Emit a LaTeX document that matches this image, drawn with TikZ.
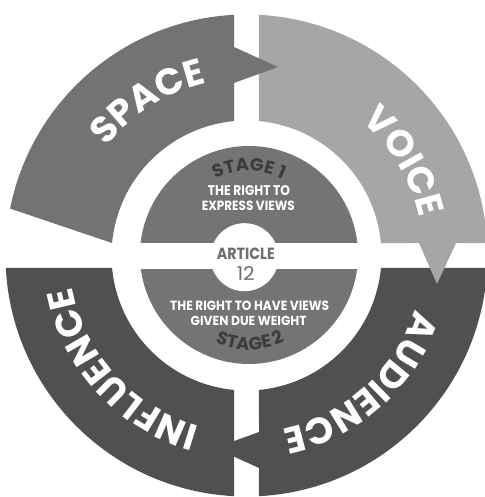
\documentclass[tikz,border=0pt]{standalone}
\usepackage{fontspec}
\usepackage{graphicx}
\usetikzlibrary{decorations.text}
\setmainfont{Poppins}
\newfontfamily\pop{Poppins}
\newcommand\ringfont{\pop\bfseries\fontsize{37}{37}\selectfont}
\newcommand\stagefont{\pop\bfseries\fontsize{18}{18}\selectfont}
\definecolor{cspace}{HTML}{737373}
\definecolor{cvoice}{HTML}{A6A6A6}
\definecolor{cdark}{HTML}{505050}
\definecolor{cdisc}{HTML}{747474}
\definecolor{cstage}{HTML}{3C3C3C}
\definecolor{cart}{HTML}{6E6E6E}
\tikzset{
  ringlabel/.style={decorate,decoration={text along path,text align=center,text color=white,
    text={|\ringfont|#1}}},
  stagelabel/.style={decorate,decoration={text along path,text align=center,text color=cstage,
    text={|\stagefont|#1}}},
  innertext/.style={text=white,inner sep=0pt}
}
\begin{document}
\begin{tikzpicture}[x=1pt,y=1pt]
\useasboundingbox (-246.5,-241.5) rectangle (237.5,255.5);
\fill[white] (-246.5,-241.5) rectangle (237.5,255.5);
% INFLUENCE
\fill[cdark] (-92.97:241) arc[start angle=-92.97,end angle=-177.03,radius=241] -- (185.31:135) arc[start angle=185.31,end angle=264.69,radius=135] -- cycle;
% AUDIENCE
\fill[cdark] (-2.97:241) arc[start angle=-2.97,end angle=-87.03,radius=241] -- (12.5,-212.5) -- (-31.5,-192.5) -- (12.5,-176.5) -- (-84.69:135) arc[start angle=-84.69,end angle=-5.31,radius=135] -- cycle;
% VOICE
\fill[cvoice] (87.03:241) arc[start angle=87.03,end angle=2.97,radius=241] -- (209.5,12.5) -- (190.5,-28.5) -- (172.5,12.5) -- (5.31:135) arc[start angle=5.31,end angle=84.69,radius=135] -- cycle;
% SPACE
\fill[cspace] (168.78:241) arc[start angle=168.78,end angle=92.97,radius=241] -- (-12.5,208.5) -- (31.5,188.5) -- (-12.5,172.5) -- (95.31:135) arc[start angle=95.31,end angle=174.69,radius=135] -- cycle;
% inner disc
\fill[cdisc] (2.5,0.5) circle[radius=109];
\fill[white] (-110,-13.5) rectangle (115,12.5);
\fill[white] (-2,-1.7) circle[radius=34];
% ring labels (baseline radius 177)
\path[ringlabel=SPACE] (172.6:177) arc[start angle=172.6,end angle=72.6,radius=177];
\path[ringlabel=VOICE] (80.8:177) arc[start angle=80.8,end angle=-19.2,radius=177];
\path[ringlabel=AUDIENCE] (1.9:177) arc[start angle=1.9,end angle=-98.1,radius=177];
\path[ringlabel=INFLUENCE] (272.3:177) arc[start angle=272.3,end angle=172.3,radius=177];
% stage labels
\begin{scope}[shift={(2.5,12.5)}]
\path[stagelabel=STAGE 1] (140:72) arc[start angle=140,end angle=40,radius=72];
\end{scope}
\begin{scope}[shift={(2.5,-12.5)}]
\path[stagelabel=STAGE 2] (-139:82) arc[start angle=-139,end angle=-39,radius=82];
\end{scope}
% inner texts
\node[innertext] (t1) at (2.5,64.5) {\resizebox{82pt}{10pt}{\pop\bfseries THE RIGHT TO}};
\node[innertext] (t2) at (1.8,50.1) {\resizebox{93pt}{9.5pt}{\pop\bfseries EXPRESS VIEWS}};
\node[innertext,text=cart] (art) at (-0.7,1.3) {\resizebox{58pt}{11.5pt}{\pop\bfseries ARTICLE}};
\node[innertext,text=cart] (num) at (-0.7,-18.2) {\resizebox{18pt}{14pt}{\pop 12}};
\node[innertext] (t3) at (3.2,-49.8) {\resizebox{159pt}{9.5pt}{\pop\bfseries THE RIGHT TO HAVE VIEWS}};
\node[innertext] (t4) at (2.2,-65) {\resizebox{116pt}{9.3pt}{\pop\bfseries GIVEN DUE WEIGHT}};
\end{tikzpicture}
\end{document}
